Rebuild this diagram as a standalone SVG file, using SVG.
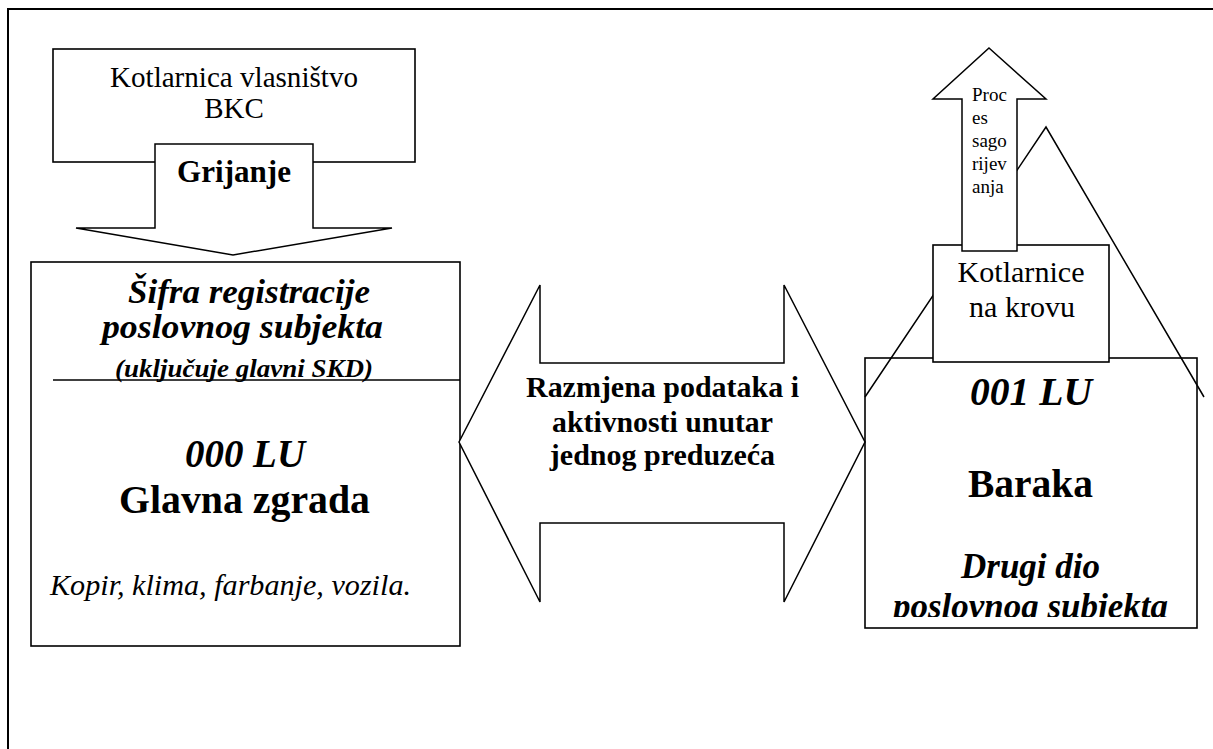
<svg xmlns="http://www.w3.org/2000/svg" width="1213" height="749" viewBox="0 0 1213 749">
<style>
.ln{fill:none;stroke:#000;stroke-width:1.5}
.bx{fill:#fff;stroke:#000;stroke-width:1.6}
.ar{fill:#fff;stroke:#000;stroke-width:1.5;stroke-linejoin:miter}
text{font-family:"Liberation Serif","Times New Roman",serif;fill:#000}
.c{text-anchor:middle}
.b{font-weight:bold}
.i{font-style:italic}
</style>
<defs>
<clipPath id="clipBaraka"><rect x="865" y="358" width="332" height="259"/></clipPath>
</defs>
<rect x="8" y="9" width="1215" height="760" fill="none" stroke="#000" stroke-width="2"/>
<g id="kotlarnica-bkc">
<rect class="bx" x="53" y="49" width="362" height="113"/>
<text class="c" x="234" y="87" font-size="29" textLength="248" lengthAdjust="spacingAndGlyphs">Kotlarnica vlasništvo</text>
<text class="c" x="234" y="118" font-size="29">BKC</text>
</g>
<g id="glavna-zgrada">
<rect class="bx" x="31" y="262" width="429" height="384"/>
<line class="ln" x1="53" y1="380" x2="460" y2="380"/>
<text class="c b i" x="249" y="303" font-size="34" textLength="242" lengthAdjust="spacingAndGlyphs">Šifra registracije</text>
<text class="c b i" x="242.5" y="338" font-size="34" textLength="281" lengthAdjust="spacingAndGlyphs">poslovnog subjekta</text>
<text class="c b i" x="244" y="377" font-size="26" textLength="258" lengthAdjust="spacingAndGlyphs">(uključuje glavni SKD)</text>
<text class="c b i" x="245" y="467" font-size="39" textLength="120" lengthAdjust="spacingAndGlyphs">000 LU</text>
<text class="c b" x="244.5" y="513" font-size="40" textLength="251" lengthAdjust="spacingAndGlyphs">Glavna zgrada</text>
<text class="i" x="50" y="595" font-size="30" textLength="361" lengthAdjust="spacingAndGlyphs">Kopir, klima, farbanje, vozila.</text>
</g>
<g id="baraka">
<rect x="865" y="358" width="332" height="270" fill="none" stroke="#000" stroke-width="1.6"/>
<text class="c b i" x="1031" y="405" font-size="39" textLength="122" lengthAdjust="spacingAndGlyphs">001 LU</text>
<text class="c b" x="1030.5" y="497" font-size="39.5" textLength="125" lengthAdjust="spacingAndGlyphs">Baraka</text>
<text class="c b i" x="1030.5" y="578" font-size="35" textLength="139" lengthAdjust="spacingAndGlyphs">Drugi dio</text>
<text class="c b i" x="1030.5" y="618" font-size="35" textLength="275" lengthAdjust="spacingAndGlyphs" clip-path="url(#clipBaraka)">poslovnog subjekta</text>
</g>
<g id="krov">
<polyline class="ln" points="865,397 1046,127 1204,397"/>
</g>
<g id="kotlarnice-na-krovu">
<rect class="bx" x="933" y="245" width="176" height="117"/>
<text class="c" x="1021" y="282" font-size="30" textLength="127" lengthAdjust="spacingAndGlyphs">Kotlarnice</text>
<text class="c" x="1022" y="317" font-size="30" textLength="106" lengthAdjust="spacingAndGlyphs">na krovu</text>
</g>
<g id="connectors">
<g id="grijanje">
<polygon class="ar" points="155,144 313,144 313,228 392,228 233,255 76,228 155,228"/>
<text class="c b" x="234" y="182" font-size="31" textLength="114" lengthAdjust="spacingAndGlyphs">Grijanje</text>
</g>
<g id="razmjena">
<polygon class="ar" points="459,442 540,285 540,363 784,363 784,285 865,442 784,602 784,523 540,523 540,602"/>
<text class="c b" x="662.5" y="397" font-size="30" textLength="273" lengthAdjust="spacingAndGlyphs">Razmjena podataka i</text>
<text class="c b" x="662.5" y="432" font-size="30" textLength="221" lengthAdjust="spacingAndGlyphs">aktivnosti unutar</text>
<text class="c b" x="662.5" y="465" font-size="30">jednog preduzeća</text>
</g>
<g id="proces-sagorijevanja">
<polygon class="ar" points="989,48 1046,99 1017,99 1017,251 962,251 962,99 933,99"/>
<text x="972" y="101" font-size="19">Proc</text>
<text x="972" y="124" font-size="19">es</text>
<text x="972" y="147" font-size="19">sago</text>
<text x="972" y="170" font-size="19">rijev</text>
<text x="972" y="193" font-size="19">anja</text>
</g>
</g>
</svg>
